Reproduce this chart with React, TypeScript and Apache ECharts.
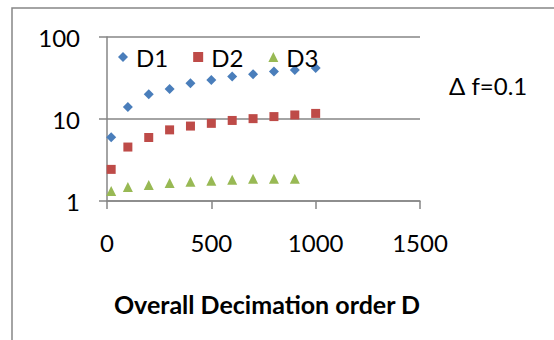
import React, { useEffect, useRef } from "react";
import * as echarts from "echarts";

const xD1D2 = [20, 100, 200, 300, 400, 500, 600, 700, 800, 900, 1000];
const xD3 = [20, 100, 200, 300, 400, 500, 600, 700, 800, 900];
const d1Values = [6.0, 14.0, 20, 23.2, 27.3, 30.0, 33.0, 35.2, 38.0, 39.6, 41.8];
const d2Values = [2.43, 4.55, 5.95, 7.37, 8.2, 8.85, 9.6, 10.1, 10.7, 11.2, 11.7];
const d3Values = [1.32, 1.48, 1.57, 1.66, 1.72, 1.77, 1.82, 1.87, 1.87, 1.87];
const seriesNames = ["D1", "D2", "D3"];
const xTicks = { min: 0, max: 1500, interval: 500 };
const yTicks = { min: 1, max: 100 };
const xTitle = "Overall Decimation order D";
const note = "\u0394 f=0.1";

const FONT = "Lato";
const AXIS = "#868686";

export default function App() {
  const ref = useRef<HTMLDivElement>(null);
  useEffect(() => {
    if (!ref.current) return;
    const chart = echarts.init(ref.current, undefined, { renderer: "svg" });
    const pair = (xs: number[], ys: number[]) => xs.map((x, i) => [x, ys[i]]);
    chart.setOption({
      animation: false,
      backgroundColor: "#ffffff",
      textStyle: { fontFamily: FONT },
      grid: { left: 107, right: 134, top: 37, bottom: 139, containLabel: false },
      legend: {
        left: 118,
        top: 45,
        padding: 0,
        itemWidth: 10,
        itemHeight: 10,
        itemGap: 25,
        textStyle: { fontFamily: FONT, fontSize: 24, color: "#000", padding: [0, 0, 0, 3] },
        data: [
          { name: seriesNames[0], icon: "diamond" },
          { name: seriesNames[1], icon: "rect" },
          { name: seriesNames[2], icon: "triangle" },
        ],
      },
      xAxis: {
        type: "value",
        min: xTicks.min,
        max: xTicks.max,
        interval: xTicks.interval,
        axisLine: { show: true, lineStyle: { color: AXIS, width: 1.5 } },
        axisTick: { show: true, length: 8, inside: false, lineStyle: { color: AXIS, width: 1.5 } },
        axisLabel: {
          margin: 29,
          fontFamily: FONT,
          fontSize: 24,
          color: "#000",
          formatter: (v: number) => String(v),
        },
        splitLine: { show: false },
      },
      yAxis: {
        type: "log",
        logBase: 10,
        min: yTicks.min,
        max: yTicks.max,
        axisLine: { show: true, lineStyle: { color: AXIS, width: 1.5 } },
        axisTick: { show: true, length: 8, inside: false, lineStyle: { color: AXIS, width: 1.5 } },
        axisLabel: {
          margin: 27,
          fontFamily: FONT,
          fontSize: 24,
          color: "#000",
          formatter: (v: number) => String(v),
        },
        splitLine: { show: true, lineStyle: { color: AXIS, width: 1.5 } },
        minorTick: { show: false },
      },
      graphic: [
        {
          type: "rect",
          shape: { x: 12, y: 8, width: 700, height: 500 },
          style: { fill: "none", stroke: AXIS, lineWidth: 1.5 },
          silent: true,
        },
        {
          type: "text",
          x: 267,
          y: 304,
          style: {
            text: xTitle,
            fontFamily: FONT,
            fontSize: 25,
            fontWeight: "bold",
            fill: "#000",
            textAlign: "center",
            textVerticalAlign: "middle",
          },
        },
        {
          type: "text",
          x: 449,
          y: 85,
          style: {
            text: note,
            fontFamily: FONT,
            fontSize: 24,
            fill: "#000",
            textAlign: "left",
            textVerticalAlign: "middle",
          },
        },
      ],
      series: [
        {
          name: seriesNames[0],
          type: "scatter",
          symbol: "diamond",
          symbolSize: 10,
          itemStyle: { color: "#4A7EBB", opacity: 1 },
          data: pair(xD1D2, d1Values),
        },
        {
          name: seriesNames[1],
          type: "scatter",
          symbol: "rect",
          symbolSize: 9,
          itemStyle: { color: "#BE4B48", opacity: 1 },
          data: pair(xD1D2, d2Values),
        },
        {
          name: seriesNames[2],
          type: "scatter",
          symbol: "triangle",
          symbolSize: 10,
          itemStyle: { color: "#98B954", opacity: 1 },
          data: pair(xD3, d3Values),
        },
      ],
    });
    return () => chart.dispose();
  }, []);
  return (
    <div
      ref={ref}
      style={{ position: "fixed", left: 0, top: 0, width: 554, height: 340, background: "#fff" }}
    />
  );
}
